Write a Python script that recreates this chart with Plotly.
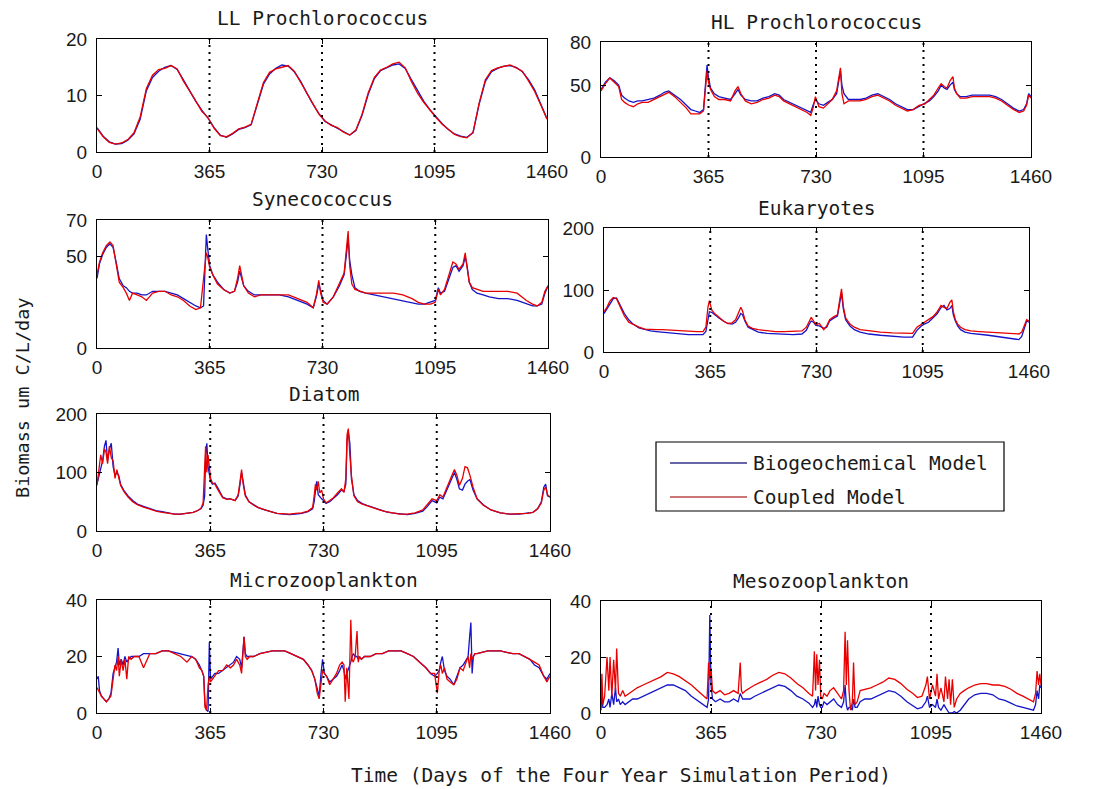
import plotly.graph_objects as go

W, H = 1103, 789

# ---------------- data ----------------
ll_days = list(range(0, 1461, 20))
ll_bio = [4.3, 2.8, 1.8, 1.4, 1.5, 2.1, 3.2, 5.8, 10.8, 13.2,
          14.3, 15.0, 15.3, 14.6, 12.8, 10.8, 9.0, 7.4, 6.0, 4.3,
          3.0, 2.6, 3.2, 4.0, 4.3, 4.8, 8.5, 12.0, 13.8, 14.8,
          15.4, 15.2, 14.2, 12.6, 10.5, 8.5, 6.8, 5.4, 4.8, 4.2,
          3.6, 3.0, 3.8, 6.5, 10.2, 13.0, 14.4, 14.9, 15.4, 15.6,
          14.8, 12.8, 10.8, 9.0, 7.5, 6.2, 5.0, 4.0, 3.2, 2.8,
          2.6, 3.4, 8.5, 12.5, 14.2, 14.8, 15.2, 15.3, 15.0, 14.2,
          12.8, 11.0, 8.6, 5.9]
ll_cpl = [4.2, 2.7, 1.7, 1.4, 1.6, 2.2, 3.4, 6.2, 11.2, 13.6,
          14.6, 14.8, 15.3, 14.7, 12.6, 10.9, 9.1, 7.2, 6.1, 4.2,
          2.9, 2.7, 3.3, 4.1, 4.4, 4.9, 8.8, 12.3, 14.1, 14.7,
          15.0, 15.3, 14.3, 12.4, 10.6, 8.6, 6.7, 5.5, 4.7, 4.3,
          3.5, 3.0, 3.9, 6.7, 10.5, 13.2, 14.5, 15.0, 15.6, 15.9,
          14.9, 12.5, 10.4, 8.8, 7.4, 6.1, 4.9, 4.0, 3.1, 2.7,
          2.5, 3.5, 8.7, 12.8, 14.4, 14.9, 15.1, 15.4, 14.9, 14.3,
          12.6, 10.7, 8.3, 5.8]

hl_days = [0, 15, 30, 45, 60, 70, 80, 95, 110, 125,
           140, 160, 180, 200, 215, 230, 250, 270, 290, 305,
           320, 335, 348, 355, 360, 365, 372, 385, 400, 420,
           440, 455, 465, 475, 490, 510, 530, 550, 570, 590,
           605, 620, 640, 660, 680, 700, 712, 720, 728, 740,
           755, 770, 785, 800, 808, 813, 818, 825, 840, 860,
           880, 900, 920, 940, 960, 980, 1000, 1020, 1040, 1060,
           1080, 1100, 1115, 1130, 1145, 1155, 1165, 1175, 1185, 1195,
           1200, 1208, 1220, 1240, 1260, 1280, 1300, 1320, 1340, 1360,
           1380, 1400, 1420, 1435, 1445, 1452, 1460]
hl_bio = [47, 52, 55, 53, 50, 43, 41, 39, 38, 39,
          39, 40, 41, 43, 45, 46, 43, 40, 36, 33,
          32, 31, 33, 50, 64, 55, 48, 44, 42, 41,
          40, 44, 47, 43, 40, 39, 39, 41, 42, 44,
          43, 40, 38, 36, 34, 32, 31, 36, 40, 37,
          36, 38, 40, 44, 55, 60, 50, 44, 40, 40,
          40, 41, 43, 44, 42, 40, 37, 35, 33, 33,
          35, 37, 39, 42, 46, 50, 48, 47, 50, 52,
          47, 44, 42, 42, 43, 43, 43, 43, 42, 40,
          37, 34, 32, 33, 37, 44, 42]
hl_cpl = [46, 51, 55, 52, 49, 40, 38, 36, 35, 37,
          38, 38, 40, 42, 44, 45, 42, 38, 34, 30,
          30, 30, 32, 48, 60, 52, 47, 42, 40, 40,
          39, 46, 49, 44, 39, 37, 38, 40, 41, 43,
          42, 39, 37, 35, 33, 31, 29, 34, 42, 35,
          34, 37, 40, 46, 56, 62, 44, 37, 39, 39,
          39, 40, 42, 43, 41, 39, 36, 34, 32, 33,
          36, 37, 40, 43, 48, 51, 49, 48, 53, 56,
          48, 44, 41, 41, 42, 42, 42, 42, 41, 39,
          36, 33, 31, 32, 36, 43, 41]

syn_days = [0, 8, 18, 30, 42, 52, 62, 72, 85, 95,
            105, 115, 130, 145, 160, 180, 200, 220, 240, 260,
            280, 300, 320, 335, 345, 350, 354, 358, 365, 375,
            390, 410, 430, 445, 455, 462, 468, 475, 490, 510,
            530, 560, 590, 620, 650, 680, 700, 710, 718, 724,
            732, 745, 765, 785, 800, 808, 813, 818, 825, 835,
            850, 870, 900, 930, 960, 990, 1020, 1040, 1060, 1080,
            1095, 1105, 1112, 1125, 1140, 1152, 1162, 1172, 1185, 1192,
            1198, 1205, 1215, 1230, 1250, 1270, 1300, 1330, 1360, 1390,
            1410, 1425, 1440, 1450, 1460]
syn_bio = [38, 46, 51, 55, 57, 55, 47, 38, 34, 33,
           31, 30, 30, 29, 29, 31, 31, 31, 30, 29,
           27, 25, 23, 22, 23, 45, 62, 55, 45, 40,
           36, 32, 30, 31, 36, 42, 38, 34, 31, 29,
           29, 29, 29, 28, 26, 24, 22, 28, 35, 31,
           26, 24, 28, 34, 40, 52, 60, 48, 40, 33,
           31, 30, 29, 28, 27, 26, 25, 24, 24, 25,
           26, 33, 30, 31, 38, 44, 45, 42, 45, 50,
           45, 36, 32, 30, 29, 28, 27, 27, 26, 24,
           23, 23, 24, 30, 34]
syn_cpl = [40, 47, 52, 56, 58, 56, 46, 36, 33, 30,
           26, 30, 29, 28, 26, 30, 31, 31, 29, 28,
           26, 23, 21, 22, 38, 46, 52, 50, 44, 40,
           35, 32, 30, 31, 38, 45, 40, 34, 30, 28,
           29, 29, 29, 29, 27, 25, 22, 29, 37, 30,
           25, 24, 28, 35, 41, 55, 64, 45, 35, 32,
           31, 30, 30, 30, 30, 29, 27, 25, 24, 24,
           25, 32, 29, 32, 40, 47, 46, 43, 46, 52,
           44, 36, 33, 32, 31, 31, 31, 31, 30, 26,
           24, 23, 25, 31, 34]

euk_days = [0, 10, 20, 32, 43, 55, 70, 85, 100, 120,
            140, 160, 180, 200, 230, 260, 290, 320, 340, 350,
            357, 362, 370, 380, 395, 410, 425, 440, 452, 462,
            470, 476, 484, 495, 510, 530, 560, 590, 620, 650,
            680, 695, 705, 712, 720, 728, 740, 755, 765, 775,
            790, 802, 810, 816, 822, 830, 845, 860, 880, 910,
            950, 990, 1030, 1060, 1075, 1090, 1100, 1115, 1130, 1145,
            1158, 1168, 1178, 1188, 1195, 1200, 1207, 1215, 1225, 1240,
            1260, 1290, 1320, 1350, 1380, 1410, 1425, 1435, 1445, 1452,
            1460]
euk_bio = [62, 70, 78, 86, 87, 76, 62, 52, 45, 39,
           36, 34, 33, 32, 31, 30, 28, 28, 28, 33,
           55, 65, 64, 60, 55, 50, 46, 45, 48, 55,
           62, 60, 50, 40, 36, 32, 30, 29, 28, 28,
           29, 35, 45, 50, 48, 43, 42, 38, 40, 50,
           55, 58, 80, 95, 70, 52, 42, 36, 32, 29,
           27, 25, 24, 24, 35, 42, 45, 48, 55, 62,
           72, 75, 68, 70, 75, 60, 50, 42, 36, 32,
           30, 29, 27, 25, 23, 21, 20, 25, 40, 50,
           48]
euk_cpl = [65, 72, 82, 88, 86, 74, 58, 48, 44, 40,
           37, 36, 36, 36, 35, 35, 33, 33, 33, 40,
           72, 83, 68, 62, 56, 50, 46, 47, 52, 62,
           72, 66, 52, 42, 38, 36, 34, 33, 33, 33,
           34, 40, 50, 56, 50, 44, 46, 36, 42, 52,
           57, 60, 85, 102, 74, 55, 45, 40, 36, 34,
           32, 31, 30, 30, 40, 45, 48, 52, 57, 65,
           75, 72, 70, 80, 84, 65, 52, 45, 40, 36,
           34, 33, 32, 31, 30, 29, 29, 32, 45, 52,
           50]

dia_days = [0, 6, 12, 18, 24, 29, 34, 40, 46, 52,
            58, 64, 70, 76, 86, 100, 115, 130, 150, 170,
            190, 210, 230, 250, 270, 290, 310, 325, 335, 342,
            347, 350, 354, 358, 362, 366, 372, 380, 388, 396,
            405, 418, 430, 445, 455, 461, 466, 471, 478, 490,
            505, 520, 540, 560, 580, 600, 620, 640, 660, 680,
            695, 700, 704, 708, 713, 718, 724, 730, 738, 750,
            762, 775, 788, 796, 802, 806, 810, 815, 820, 828,
            840, 855, 870, 890, 910, 930, 950, 975, 1000, 1025,
            1050, 1065, 1080, 1095, 1105, 1115, 1127, 1140, 1152, 1160,
            1168, 1178, 1186, 1194, 1202, 1212, 1225, 1245, 1270, 1300,
            1330, 1360, 1385, 1405, 1420, 1432, 1440, 1446, 1452, 1460]
dia_bio = [80, 95, 110, 120, 145, 155, 120, 140, 150, 110,
           95, 100, 95, 80, 70, 60, 52, 46, 42, 38,
           35, 33, 31, 29, 29, 30, 32, 35, 38, 44,
           60, 130, 150, 110, 95, 85, 80, 82, 75, 68,
           58, 55, 55, 52, 60, 80, 100, 85, 62, 50,
           45, 40, 36, 33, 30, 29, 28, 29, 30, 33,
           38, 50, 70, 85, 62, 58, 55, 52, 47, 50,
           55, 62, 70, 68, 80, 155, 170, 150, 90, 62,
           52, 47, 44, 40, 37, 33, 31, 29, 28, 30,
           34, 42, 52, 48, 58, 55, 70, 85, 100, 88,
           72, 70, 80, 85, 88, 70, 55, 45, 36, 31,
           29, 29, 30, 32, 38, 50, 75, 80, 60, 58]
dia_cpl = [78, 100, 130, 115, 140, 135, 115, 145, 125, 120,
           90, 105, 90, 78, 68, 58, 50, 45, 41, 37,
           34, 32, 30, 29, 29, 30, 32, 35, 39, 48,
           120, 145, 100, 130, 110, 90, 82, 80, 72, 65,
           57, 54, 55, 52, 62, 85, 105, 80, 60, 50,
           44, 40, 36, 33, 30, 29, 29, 30, 31, 34,
           40, 60, 80, 70, 85, 65, 70, 55, 48, 52,
           57, 65, 72, 66, 90, 165, 175, 130, 95, 60,
           50, 46, 43, 39, 36, 33, 31, 29, 29, 31,
           36, 45, 55, 52, 62, 58, 75, 90, 105, 95,
           78, 90, 110, 108, 95, 75, 55, 44, 36, 31,
           29, 29, 30, 32, 38, 48, 70, 75, 62, 58]

mic_days = [0, 4, 8, 14, 22, 30, 38, 45, 52, 58,
            63, 68, 72, 78, 84, 90, 96, 102, 110, 120,
            135, 150, 170, 190, 210, 230, 250, 270, 290, 305,
            318, 330, 338, 344, 348, 353, 358, 362, 366, 372,
            380, 392, 405, 418, 430, 440, 450, 460, 466, 470,
            474, 478, 484, 492, 505, 525, 545, 565, 585, 605,
            625, 645, 665, 680, 692, 702, 710, 716, 722, 727,
            733, 740, 750, 762, 772, 782, 790, 796, 800, 805,
            812, 818, 822, 826, 832, 838, 842, 846, 852, 862,
            880, 900, 920, 940, 960, 980, 1000, 1020, 1040, 1060,
            1075, 1088, 1097, 1103, 1108, 1113, 1120, 1128, 1138, 1150,
            1160, 1170, 1180, 1190, 1196, 1201, 1205, 1209, 1213, 1218,
            1225, 1240, 1260, 1280, 1300, 1320, 1340, 1360, 1380, 1395,
            1410, 1425, 1440, 1450, 1460]
mic_bio = [12, 13, 8, 6, 5, 4, 5, 7, 14, 16,
           18, 23, 17, 19, 17, 20, 18, 19, 20, 20,
           20, 21, 21, 21, 22, 22, 21.5, 21, 20.5, 20,
           19, 17, 15, 13, 3, 1, 0.5, 25, 12, 13,
           14, 14, 15, 16, 17, 18, 20, 19, 16, 21,
           27, 21, 20, 20, 20, 21, 21.5, 22, 22, 22,
           21, 20, 19, 17, 15, 12, 8, 6, 14, 19,
           14, 13, 11, 12, 13, 15, 17, 15, 12, 14,
           16, 18, 20, 21, 20, 20, 19, 20, 19, 20,
           20, 21, 21, 22, 22, 22, 21, 20, 18, 16,
           14, 13, 14, 15, 18, 20, 15, 13, 12, 10,
           13, 16, 17, 19, 20, 27, 32, 14, 20, 21,
           21, 21.5, 22, 22, 22, 21.5, 21, 21, 20, 19,
           17, 16, 13, 12, 14]
mic_cpl = [9, 8, 7, 6, 5, 4, 5, 6, 12, 17,
           15, 20, 13, 19, 15, 19, 12, 20, 19, 20,
           20, 16, 21, 21, 22, 22, 21, 20, 18, 20,
           19, 16, 15, 13, 2, 1, 10, 13, 11, 12,
           13, 15, 15, 17, 16, 17, 19, 17, 14, 19,
           27, 20, 19, 20, 20, 21, 21.5, 22, 22, 22,
           21, 20, 19, 17, 15, 12, 7, 5, 12, 15,
           14, 13, 10, 12, 14, 17, 18, 17, 4, 16,
           5, 33, 19, 18, 20, 29, 18, 20, 19, 20,
           20, 21, 21, 22, 22, 22, 21, 20, 18, 16,
           14, 14, 7, 15, 17, 14, 16, 12, 11, 10,
           12, 16, 15, 18, 20, 16, 21, 19, 20, 21,
           21, 21.5, 22, 22, 22, 21.5, 21, 21, 20, 19,
           18, 17, 13, 11, 13]

mes_days = [0, 3, 6, 12, 20, 26, 30, 36, 42, 48,
            52, 58, 64, 72, 80, 92, 105, 120, 140, 160,
            180, 200, 220, 240, 260, 280, 300, 320, 340, 352,
            357, 361, 365, 370, 380, 395, 410, 425, 440, 455,
            462, 466, 470, 480, 495, 510, 530, 550, 570, 590,
            610, 630, 650, 670, 690, 702, 708, 712, 716, 720,
            725, 729, 734, 740, 750, 760, 772, 785, 798, 805,
            810, 814, 818, 823, 828, 834, 838, 843, 850, 860,
            875, 895, 915, 935, 955, 975, 995, 1015, 1035, 1050,
            1065, 1078, 1083, 1090, 1100, 1110, 1115, 1120, 1128, 1138,
            1143, 1150, 1155, 1160, 1166, 1172, 1180, 1192, 1205, 1220,
            1240, 1260, 1280, 1300, 1320, 1340, 1360, 1380, 1400, 1420,
            1435, 1442, 1447, 1452, 1456, 1460]
mes_bio = [1, 8, 2, 2, 3, 5, 2, 7, 3, 9,
           4, 5, 3, 4, 3, 4, 5, 5, 6, 7,
           8, 9, 10, 10, 9, 8, 6, 4.5, 3, 2,
           5, 35, 10, 5, 4, 5, 4, 4, 5, 4,
           7, 6, 5, 5, 5, 6, 7, 8, 9, 10,
           9.5, 8, 6, 5, 3.5, 2, 3, 5, 2, 6,
           3, 2, 2, 4, 3, 4, 5, 3, 2, 4,
           10, 3, 1, 2, 2, 1, 5, 2, 2, 4,
           5, 5, 6, 7, 8, 7.5, 6, 4, 2.5, 1.5,
           2, 4, 6, 2, 3, 2, 5, 2, 1, 3,
           2, 0.5, 0, 0, 0, 0.5, 0, 1, 3, 5,
           6.5, 7, 7, 6.5, 5, 4.5, 3.5, 2.5, 2, 1.5,
           1, 3, 8, 5, 10, 9]
mes_cpl = [4, 14, 3, 6, 20, 8, 20, 6, 19, 8,
           23, 7, 6, 8, 6, 7, 8, 9, 10, 11,
           12, 13, 14.5, 14, 13, 11.5, 10, 8, 6, 5,
           18, 12, 16, 8, 7, 8, 6.5, 7, 8, 7,
           18, 8, 7, 8, 9, 10, 11, 12, 13.5, 14.5,
           14, 12.5, 10.5, 9, 7, 6, 22, 8, 21, 10,
           19, 6, 5, 7, 6, 8, 9, 7, 5, 8,
           29, 10, 26, 8, 1, 4, 18, 3, 4, 8,
           8.5, 9, 10, 11, 12.5, 12, 10.5, 8.5, 7, 5.5,
           6, 10, 13, 5, 10, 6, 14, 5, 9, 4,
           13, 5, 12, 3, 12, 2, 5, 7, 8, 9,
           10, 10.5, 10.5, 10, 10, 9.5, 8.5, 7, 6, 5,
           4, 7, 15, 10, 14, 10]

titles = ["LL Prochlorococcus", "HL Prochlorococcus", "Synecococcus",
          "Eukaryotes", "Diatom", "Microzooplankton", "Mesozooplankton"]
xtick_vals = [0, 365, 730, 1095, 1460]
year_marks = [365, 730, 1095]
y_max = [20, 80, 70, 200, 200, 40, 40]
y_ticks = [[0, 10, 20], [0, 50, 80], [0, 50, 70], [0, 100, 200],
           [0, 100, 200], [0, 20, 40], [0, 20, 40]]
series_names = ["Biogeochemical Model", "Coupled Model"]

# ---------------- layout / styling ----------------
BLUE = "#1414c8"
RED = "#e80000"
MONO = "DejaVu Sans Mono, monospace"
SANS = "Liberation Sans, Arial, sans-serif"
TXT = "#1a1a1a"
OFF = 8  # page body margin in the browser

# (left, right, top, bottom) in screen pixels
boxes = [(97, 547, 39, 152), (601, 1031, 42, 157),
         (97, 548, 220, 348), (604, 1029, 228, 352),
         (97, 550, 414, 531),
         (97, 550, 600, 713), (601, 1041, 601, 713)]

data = [(ll_days, ll_bio, ll_cpl), (hl_days, hl_bio, hl_cpl),
        (syn_days, syn_bio, syn_cpl), (euk_days, euk_bio, euk_cpl),
        (dia_days, dia_bio, dia_cpl), (mic_days, mic_bio, mic_cpl),
        (mes_days, mes_bio, mes_cpl)]


def px(x):
    return (x - OFF) / W


def py(y):
    return 1 - (y - OFF) / H


fig = go.Figure()
layout = dict(width=W, height=H, margin=dict(l=0, r=0, t=0, b=0, pad=0, autoexpand=False),
              paper_bgcolor="white", plot_bgcolor="white", template="none",
              showlegend=False, shapes=[], annotations=[])

for i, (title, (days, bio, cpl)) in enumerate(zip(titles, data), start=1):
    sfx = "" if i == 1 else str(i)
    l, r, t, b = boxes[i - 1]
    xa = "x" + sfx
    ya = "y" + sfx
    for vals, col, nm in ((bio, BLUE, series_names[0]), (cpl, RED, series_names[1])):
        fig.add_trace(go.Scatter(x=days, y=vals, mode="lines", name=nm,
                                 line=dict(color=col, width=1.3),
                                 xaxis=xa, yaxis=ya, showlegend=False))
    common = dict(showline=True, linecolor="black", linewidth=1, mirror="ticks",
                  ticks="inside", ticklen=5, tickcolor="black", showgrid=False,
                  zeroline=False, automargin=False,
                  tickfont=dict(family=SANS, size=19, color=TXT))
    layout["xaxis" + sfx] = dict(domain=[px(l), px(r)], range=[0, 1460], anchor=ya,
                                 tickmode="array", tickvals=xtick_vals,
                                 ticklabelstandoff=2, **common)
    layout["yaxis" + sfx] = dict(domain=[py(b), py(t)], range=[0, y_max[i - 1]], anchor=xa,
                                 tickmode="array", tickvals=y_ticks[i - 1],
                                 ticklabelstandoff=5, **common)
    for d in year_marks:
        layout["shapes"].append(dict(type="line", xref=xa, yref=ya + " domain",
                                     x0=d, x1=d, y0=0, y1=1,
                                     line=dict(color="black", width=2, dash="2px,5px")))
    layout["annotations"].append(dict(text=title, xref="paper", yref="paper",
                                      x=px((l + r) / 2), y=py(t - 20),
                                      xanchor="center", yanchor="middle", showarrow=False,
                                      font=dict(family=MONO, size=19.5, color=TXT)))

# legend (drawn in the empty slot)
layout["shapes"].append(dict(type="rect", xref="paper", yref="paper",
                             x0=px(656), x1=px(1004), y0=py(511), y1=py(442),
                             line=dict(color="black", width=1.2), fillcolor="white"))
for yy, col, nm in ((463, "#33338a", series_names[0]), (497, "#b84848", series_names[1])):
    layout["shapes"].append(dict(type="line", xref="paper", yref="paper",
                                 x0=px(670), x1=px(747), y0=py(yy), y1=py(yy),
                                 line=dict(color=col, width=1.5)))
    layout["annotations"].append(dict(text=nm, xref="paper", yref="paper",
                                      x=px(751), y=py(yy), xanchor="left", yanchor="middle",
                                      showarrow=False,
                                      font=dict(family=MONO, size=19.5, color=TXT)))

layout["annotations"].append(dict(text="Biomass um C/L/day", xref="paper", yref="paper",
                                  x=px(22), y=py(398), textangle=-90,
                                  xanchor="center", yanchor="middle", showarrow=False,
                                  font=dict(family=MONO, size=18.5, color=TXT)))
layout["annotations"].append(dict(text="Time (Days of the Four Year Simulation Period)",
                                  xref="paper", yref="paper", x=px(621), y=py(775),
                                  xanchor="center", yanchor="middle", showarrow=False,
                                  font=dict(family=MONO, size=19.5, color=TXT)))

fig.update_layout(**layout)
fig.write_html("out.html")
